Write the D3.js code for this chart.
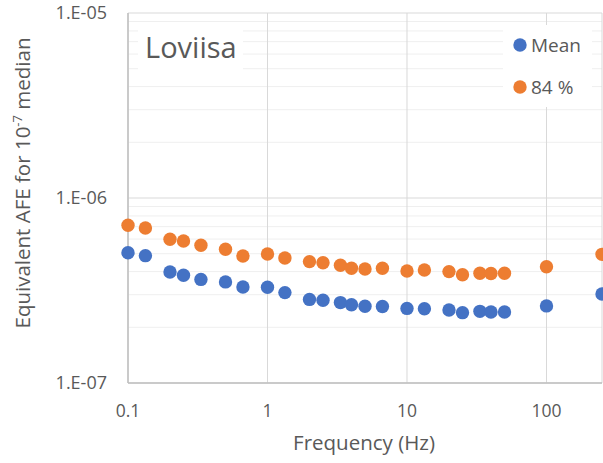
<!DOCTYPE html>
<html>
<head>
<meta charset="utf-8">
<script src="https://cdn.jsdelivr.net/npm/d3@7"></script>
<style>
  body { margin: 0; background: #fff; }
  text { font-family: "Open Sans", "Noto Sans", sans-serif; fill: #595959; }
</style>
</head>
<body>
<div id="chart"></div>
<script>
// Frequencies (Hz)
const freq = [0.1, 0.1333, 0.2, 0.25, 0.3333, 0.5, 0.6667, 1, 1.333, 2, 2.5, 3.333, 4, 5, 6.667,
              10, 13.33, 20, 25, 33.33, 40, 50, 100, 250];
// Equivalent AFE for 1e-7 median
const meanVals = [5.06e-7, 4.88e-7, 3.98e-7, 3.82e-7, 3.63e-7, 3.52e-7, 3.30e-7, 3.29e-7, 3.08e-7,
                  2.83e-7, 2.80e-7, 2.72e-7, 2.65e-7, 2.60e-7, 2.59e-7, 2.53e-7, 2.52e-7, 2.48e-7,
                  2.40e-7, 2.44e-7, 2.42e-7, 2.42e-7, 2.61e-7, 3.03e-7];
const p84Vals = [7.12e-7, 6.89e-7, 5.98e-7, 5.86e-7, 5.55e-7, 5.28e-7, 4.86e-7, 4.98e-7, 4.74e-7,
                 4.53e-7, 4.47e-7, 4.33e-7, 4.17e-7, 4.13e-7, 4.17e-7, 4.03e-7, 4.08e-7, 4.00e-7,
                 3.85e-7, 3.92e-7, 3.91e-7, 3.92e-7, 4.25e-7, 4.96e-7];
const xTicks = [0.1, 1, 10, 100];
const yTicks = [1e-7, 1e-6, 1e-5];
const yTickLabels = ["1.E-07", "1.E-06", "1.E-05"];

const W = 603, H = 463;
const margin = { top: 13, right: 1, bottom: 80, left: 128 };
const width = W - margin.left - margin.right,
      height = H - margin.top - margin.bottom;

const svgRoot = d3.select("#chart").append("svg")
  .attr("width", W).attr("height", H);
const svg = svgRoot.append("g")
  .attr("transform", `translate(${margin.left},${margin.top})`);

const x = d3.scaleLog().domain([0.1, 250]).range([0, width]);
const y = d3.scaleLog().domain([1e-7, 1e-5]).range([height, 0]);

// minor horizontal gridlines
const minor = [];
[1e-7, 1e-6].forEach(b => { for (let k = 2; k <= 9; k++) minor.push(b * k); });
svg.selectAll(".minor").data(minor).enter().append("line")
  .attr("x1", 0).attr("x2", width)
  .attr("y1", d => y(d)).attr("y2", d => y(d))
  .attr("stroke", "#efefef").attr("stroke-width", 1);

// major gridlines
svg.selectAll(".hmaj").data(yTicks).enter().append("line")
  .attr("x1", 0).attr("x2", width)
  .attr("y1", d => y(d)).attr("y2", d => y(d))
  .attr("stroke", "#d9d9d9");
svg.selectAll(".vmaj").data(xTicks).enter().append("line")
  .attr("y1", 0).attr("y2", height)
  .attr("x1", d => x(d)).attr("x2", d => x(d))
  .attr("stroke", "#d9d9d9");
svg.append("line").attr("x1", width).attr("x2", width).attr("y1", 0).attr("y2", height)
  .attr("stroke", "#d9d9d9");

// axes lines
svg.append("line").attr("x1", 0).attr("x2", 0).attr("y1", 0).attr("y2", height)
  .attr("stroke", "#bfbfbf").attr("stroke-width", 1.5);
svg.append("line").attr("x1", 0).attr("x2", width).attr("y1", height).attr("y2", height)
  .attr("stroke", "#bfbfbf").attr("stroke-width", 1.5);

// tick labels
svg.selectAll(".ylab").data(yTicks).enter().append("text")
  .attr("x", -21).attr("y", d => y(d)).attr("dy", "0.35em")
  .attr("text-anchor", "end").attr("font-size", 18)
  .text((d, i) => yTickLabels[i]);
svg.selectAll(".xlab").data(xTicks).enter().append("text")
  .attr("x", d => x(d)).attr("y", height + 34)
  .attr("text-anchor", "middle").attr("font-size", 17.5)
  .text(d => d3.format("~g")(d));

// axis titles
svgRoot.append("text")
  .attr("x", 364).attr("y", margin.top + height + 67)
  .attr("text-anchor", "middle").attr("font-size", 20.5)
  .text("Frequency (Hz)");

const yt = svgRoot.append("text")
  .attr("transform", `translate(30,183) rotate(-90)`)
  .attr("text-anchor", "middle").attr("font-size", 20.5);
yt.append("tspan").text("Equivalent AFE for 10");
yt.append("tspan").attr("dy", -8).attr("font-size", 13).text("-7");
yt.append("tspan").attr("dy", 8).text(" median");

// series
const series = [
  { name: "Mean", vals: meanVals, color: "#4472c4" },
  { name: "84 %", vals: p84Vals, color: "#ed7d31" }
];
series.forEach(s => {
  svg.append("g").selectAll("circle")
    .data(freq.map((f, i) => [f, s.vals[i]]))
    .enter().append("circle")
    .attr("cx", d => x(d[0])).attr("cy", d => y(d[1]))
    .attr("r", 6.7).attr("fill", s.color);
});

// title box
svg.append("rect").attr("x", 10).attr("y", 9).attr("width", 105).attr("height", 48).attr("fill", "#fff");
svg.append("text").attr("x", 17).attr("y", 45).attr("font-size", 29).text("Loviisa");

// legend
const lg = svg.append("g").attr("transform", `translate(${503 - margin.left},${25 - margin.top})`);
lg.append("rect").attr("width", 89).attr("height", 82).attr("fill", "#fff");
series.forEach((s, i) => {
  const row = lg.append("g").attr("transform", `translate(0,${20 + i * 42})`);
  row.append("circle").attr("cx", 17).attr("cy", 0).attr("r", 6.7).attr("fill", s.color);
  row.append("text").attr("x", 28).attr("y", 0).attr("dy", "0.35em").attr("font-size", 19).text(s.name);
});
</script>
</body>
</html>
